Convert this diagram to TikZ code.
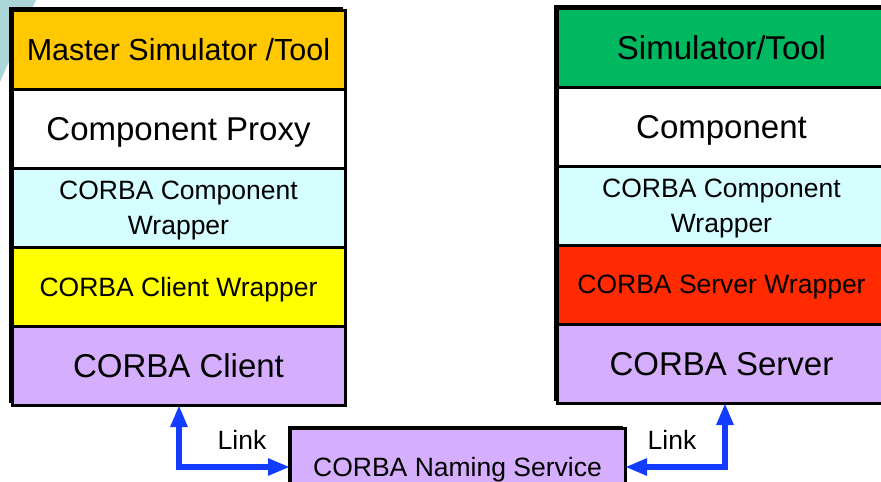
\documentclass[tikz,border=0pt]{standalone}
\usepackage{fontspec}
\setmainfont{Liberation Sans}
\usetikzlibrary{arrows.meta}

\begin{document}
\begin{tikzpicture}[x=1pt, y=-1pt,
    %Option for nice arrows
    >={Triangle[length=22pt,width=16pt]}, %
    inner sep=0pt, outer sep=0pt,%
    layer/.style={draw, line width=3pt, fill=#1, minimum height=79pt, text depth=0pt, align=center},
    big/.style={font=\fontsize{33}{38}\selectfont},
    small/.style={font=\fontsize{26.5}{35}\selectfont},
    link/.style={draw=linkblue, line width=5.5pt, <->},
]
    % Colors
    \definecolor{toolorange}{RGB}{255,200,0}
    \definecolor{toolgreen}{RGB}{0,184,96}
    \definecolor{wrapcyan}{RGB}{212,254,255}
    \definecolor{clientyellow}{RGB}{255,255,0}
    \definecolor{serverred}{RGB}{255,42,0}
    \definecolor{corbapurple}{RGB}{214,174,254}
    \definecolor{linkblue}{RGB}{18,60,255}
    \definecolor{decoteal}{RGB}{170,214,216}

    % Frame
    \clip (0,0) rectangle (881,482);
    \fill[decoteal] (0,0) -- (36,0) -- (0,82) -- cycle;

    % Shadows of the stacks
    \fill (9,7) rectangle (343,403);
    \fill (554,5) rectangle (884,401);
    \fill (288,426) rectangle (623,520);

    % Client side
    \node[layer=toolorange, minimum width=333pt, font=\fontsize{30.5}{36}\selectfont] (master) at (178.5,49.5) {Master Simulator /Tool};
    \node[layer=white, minimum width=333pt, big] (proxy) at (178.5,128.5) {Component Proxy};
    \node[layer=wrapcyan, minimum width=333pt, small] (wrapL) at (178.5,207.5) {CORBA Component\\Wrapper};
    \node[layer=clientyellow, minimum width=333pt, small] (clientwrap) at (178.5,286.5) {CORBA Client Wrapper};
    \node[layer=corbapurple, minimum width=333pt, big] (client) at (178.5,365.5) {CORBA Client};

    % Server side
    \node[layer=toolgreen, minimum width=329pt, big] (tool) at (721.5,47.5) {Simulator/Tool};
    \node[layer=white, minimum width=329pt, big] (component) at (721.5,126.5) {Component};
    \node[layer=wrapcyan, minimum width=329pt, small] (wrapR) at (721.5,205.5) {CORBA Component\\Wrapper};
    \node[layer=serverred, minimum width=329pt, small] (serverwrap) at (721.5,284.5) {CORBA Server Wrapper};
    \node[layer=corbapurple, minimum width=329pt, big] (server) at (721.5,363.5) {CORBA Server};

    % Naming service
    \node[layer=corbapurple, minimum width=335pt, minimum height=78pt, small] (naming) at (457.5,467) {CORBA Naming Service};

    % Links
    \draw[link] ([xshift=0.5pt]client.south) |- (naming.west);
    \draw[link] ([xshift=3.5pt]server.south) |- (naming.east);
    \node[small] (linkL) at (242,440) {Link};
    \node[small] (linkR) at (672,440) {Link};
\end{tikzpicture}
\end{document}
